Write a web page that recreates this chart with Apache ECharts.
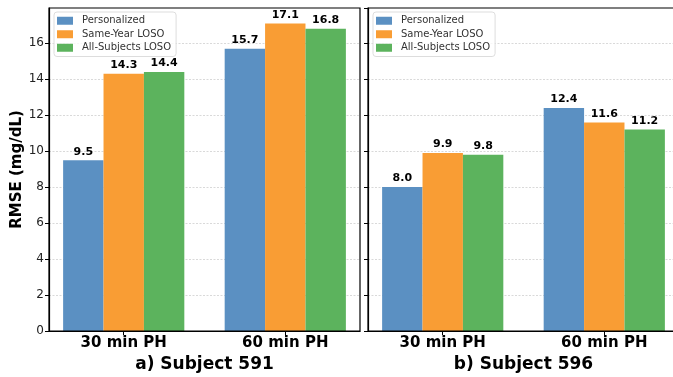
<!DOCTYPE html>
<html><head><meta charset="utf-8">
<script src="https://cdn.jsdelivr.net/npm/echarts@6/dist/echarts.min.js"></script>
<style>html,body{margin:0;padding:0;background:#fff}#c{width:673px;height:377px}</style>
</head><body><div id="c"></div>
<script>
const categories = ['30 min PH', '60 min PH'];
const seriesNames = ['Personalized', 'Same-Year LOSO', 'All-Subjects LOSO'];
const subjectTitles = ['a) Subject 591', 'b) Subject 596'];
const personalized591 = [9.5, 15.7];
const sameYear591 = [14.3, 17.1];
const allSubjects591 = [14.4, 16.8];
const personalized596 = [8.0, 12.4];
const sameYear596 = [9.9, 11.6];
const allSubjects596 = [9.8, 11.2];
const yTicks = [0, 2, 4, 6, 8, 10, 12, 14, 16];

const colors = ['#5b90c2', '#f99d34', '#5cb35d'];
const font = 'DejaVu Sans';
const panels = [[personalized591, sameYear591, allSubjects591], [personalized596, sameYear596, allSubjects596]];

const chart = echarts.init(document.getElementById('c'));
const grids = [
  {left: 49, top: 8, width: 311, bottom: 46, outerBoundsMode: 'none', show: true, borderColor: '#000', borderWidth: 1.2, backgroundColor: 'transparent', z: 5},
  {left: 368, top: 8, width: 311, bottom: 46, outerBoundsMode: 'none', show: true, borderColor: '#000', borderWidth: 1.2, backgroundColor: 'transparent', z: 5}
];
const xAxes = grids.map((g, i) => ({
  type: 'value', gridIndex: i, min: -0.4625, max: 1.4625,
  splitLine: {show: false},
  axisLine: {onZero: false, lineStyle: {color: '#000', width: 1.2}},
  axisTick: {show: true, customValues: [0, 1], length: 4, lineStyle: {color: '#000'}},
  axisLabel: {customValues: [0, 1], formatter: v => categories[Math.round(v)], fontFamily: font, fontWeight: 'bold', fontSize: 15, color: '#000', margin: 5},
  name: subjectTitles[i], nameLocation: 'middle', nameGap: 25,
  nameTextStyle: {fontFamily: font, fontWeight: 'bold', fontSize: 17, color: '#000'}
}));
const yAxes = grids.map((g, i) => ({
  type: 'value', gridIndex: i, min: 0, max: 17.96, interval: 2,
  axisLine: {show: true, onZero: false, lineStyle: {color: '#000', width: 1.2}},
  axisTick: {show: true, length: 4, lineStyle: {color: '#000'}},
  axisLabel: {show: i === 0, showMaxLabel: false, formatter: v => yTicks.includes(v) ? String(v) : '', fontFamily: font, fontSize: 12, color: '#222', margin: 5},
  splitLine: {show: true, showMaxLine: false, showMinLine: false, lineStyle: {type: [2, 1.5], color: '#cfcfcf', width: 0.8}},
  name: i === 0 ? 'RMSE (mg/dL)' : '', nameLocation: 'middle', nameGap: 20,
  nameTextStyle: {fontFamily: font, fontWeight: 'bold', fontSize: 15, color: '#000'}
}));
const series = [];
panels.forEach((arrs, p) => {
  arrs.forEach((vals, s) => {
    series.push({
      type: 'bar', name: seriesNames[s], xAxisIndex: p, yAxisIndex: p,
      data: vals.map((v, k) => [k, v]),
      barWidth: 40.4, barGap: '0%',
      itemStyle: {color: colors[s]},
      label: {show: true, position: 'top', distance: 3, formatter: d => d.value[1].toFixed(1), fontFamily: font, fontWeight: 'bold', fontSize: 11, color: '#000'}
    });
  });
});
const legends = [54, 373].map(l => ({
  left: l, top: 12, orient: 'vertical', data: seriesNames,
  itemWidth: 16, itemHeight: 8, itemGap: 2, icon: 'rect',
  padding: [3, 5, 3, 3],
  borderColor: '#ddd', borderWidth: 1, borderRadius: 3, backgroundColor: 'rgba(255,255,255,0.8)',
  textStyle: {fontFamily: font, fontSize: 10, color: '#333', padding: [0, 0, 0, 4], lineHeight: 11.5}
}));
chart.setOption({
  animation: false, color: colors,
  grid: grids, xAxis: xAxes, yAxis: yAxes, legend: legends, series: series
});
</script></body></html>
